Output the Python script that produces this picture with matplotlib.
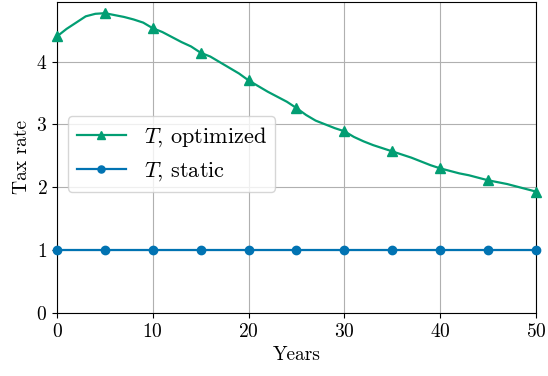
import matplotlib.pyplot as plt

plt.rcParams['font.family'] = 'cmr10'
plt.rcParams['mathtext.fontset'] = 'cm'
plt.rcParams['axes.formatter.use_mathtext'] = True
plt.rcParams['font.size'] = 14

# yearly tax rates
years = list(range(0, 51))
t_optimized = [4.40, 4.52, 4.62, 4.72, 4.76, 4.77, 4.74, 4.71, 4.67, 4.62,
               4.53, 4.47, 4.39, 4.31, 4.24, 4.14, 4.08, 3.99, 3.90, 3.81,
               3.70, 3.61, 3.52, 3.44, 3.36, 3.26, 3.15, 3.06, 3.00, 2.94,
               2.89, 2.80, 2.73, 2.67, 2.62, 2.57, 2.52, 2.47, 2.41, 2.35,
               2.30, 2.26, 2.22, 2.19, 2.15, 2.11, 2.08, 2.05, 2.01, 1.97,
               1.93]
t_static = [1.0] * len(years)

fig, ax = plt.subplots(figsize=(5.48, 3.76), dpi=100)
ax.plot(years, t_optimized, color='#029e73', marker='^', markersize=7,
        markevery=5, lw=1.6, label=r'$T$, optimized', clip_on=False, zorder=3)
ax.plot(years, t_static, color='#0173b2', marker='o', markersize=6,
        markevery=5, lw=1.6, label=r'$T$, static', clip_on=False, zorder=3)

ax.set_xlim(0, 50)
ax.set_ylim(0, 4.95)
ax.set_xticks([0, 10, 20, 30, 40, 50])
ax.set_yticks([0, 1, 2, 3, 4])
ax.grid(True, color='#b0b0b0', lw=0.8)
ax.set_xlabel('Years')
ax.set_ylabel('Tax rate')
ax.legend(loc='lower left', bbox_to_anchor=(0.023, 0.389), borderaxespad=0,
          fontsize=16, markerscale=0.85, handlelength=2.2)

plt.subplots_adjust(left=0.104, right=0.978, top=0.995, bottom=0.168)
plt.savefig('out.png')
